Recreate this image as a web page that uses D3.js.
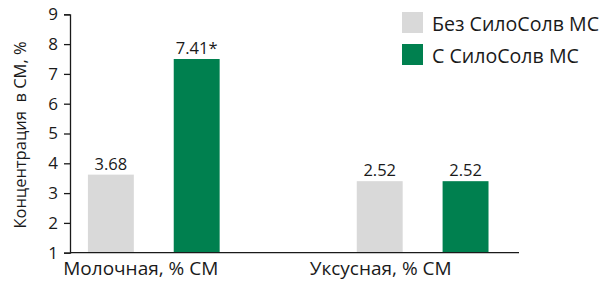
<!DOCTYPE html>
<html>
<head>
<meta charset="utf-8">
<script src="https://cdn.jsdelivr.net/npm/d3@7"></script>
<style>
  body { margin: 0; background: #fff; }
  svg text { font-family: "Open Sans", "Noto Sans", sans-serif; fill: #1a1a1a; }
</style>
</head>
<body>
<svg id="chart" width="607" height="281"></svg>
<script>
// data
const categories = ["Молочная, % СМ", "Уксусная, % СМ"];
const series = ["Без СилоСолв МС", "С СилоСолв МС"];
// bar heights as drawn in the picture
const withoutValues = [3.62, 3.4];
const withValues = [7.5, 3.4];
// labels printed above bars
const withoutLabels = ["3.68", "2.52"];
const withLabels = ["7.41*", "2.52"];
const yTicks = [1, 2, 3, 4, 5, 6, 7, 8, 9];
const yTitle = "Концентрация  в СМ, %";

const colors = ["#d9d9d9", "#00804f"];
const labelShift = [-13, -42];

const svg = d3.select("#chart");

const x0 = 70, x1 = 519, yTop = 14.3, yBot = 252.7;

const y = d3.scaleLinear().domain([1, 9]).range([yBot, yTop]);

const xGroup = d3.scaleBand()
    .domain(categories)
    .range([x0, x1])
    .paddingInner(0.51)
    .paddingOuter(0.09)
    .align(0.37);

const xSeries = d3.scaleBand()
    .domain(series)
    .range([0, xGroup.bandwidth()])
    .paddingInner(0.465);

const rows = categories.map((c, i) => ({
    cat: c,
    vals: [
        { s: series[0], v: withoutValues[i], label: withoutLabels[i] },
        { s: series[1], v: withValues[i], label: withLabels[i] }
    ]
}));

// bars
const groups = svg.selectAll(".grp")
    .data(rows)
    .enter()
    .append("g")
    .attr("class", "grp")
    .attr("transform", d => `translate(${xGroup(d.cat)},0)`);

groups.selectAll("rect")
    .data(d => d.vals)
    .enter()
    .append("rect")
    .attr("x", d => xSeries(d.s))
    .attr("y", d => y(d.v))
    .attr("width", xSeries.bandwidth())
    .attr("height", d => y(1) - y(d.v))
    .attr("fill", (d, i) => colors[i]);

groups.selectAll(".val")
    .data(d => d.vals)
    .enter()
    .append("text")
    .attr("class", "val")
    .attr("x", d => xSeries(d.s) + xSeries.bandwidth() / 2)
    .attr("y", d => y(d.v) - 5)
    .attr("text-anchor", "middle")
    .style("font-size", "16.5px")
    .text(d => d.label);

// y axis
const yAxis = svg.append("g")
    .attr("transform", `translate(${x0},0)`)
    .call(d3.axisLeft(y).tickValues(yTicks).tickSize(6).tickPadding(6).tickFormat(d3.format("d")));
yAxis.select(".domain").attr("stroke", "#1a1a1a").attr("stroke-width", 1.3);
yAxis.selectAll(".tick line").attr("stroke", "#1a1a1a").attr("stroke-width", 1.3);
yAxis.selectAll(".tick text")
    .style("font-size", "17px")
    .style("font-family", "'Open Sans', sans-serif")
    .attr("fill", "#1a1a1a");

// x axis line
svg.append("line")
    .attr("x1", x0).attr("x2", x1)
    .attr("y1", y(1)).attr("y2", y(1))
    .attr("stroke", "#1a1a1a")
    .attr("stroke-width", 1.3);

// category labels
svg.selectAll(".cat")
    .data(categories)
    .enter()
    .append("text")
    .attr("class", "cat")
    .attr("x", (d, i) => xGroup(d) + xGroup.bandwidth() / 2 + labelShift[i])
    .attr("y", 275)
    .attr("text-anchor", "middle")
    .style("font-size", "19px")
    .text(d => d);

// y title
svg.append("text")
    .attr("transform", "rotate(-90)")
    .attr("x", -135)
    .attr("y", 26)
    .attr("text-anchor", "middle")
    .style("font-size", "16.5px")
    .style("white-space", "pre")
    .text(yTitle);

// legend
const legend = svg.selectAll(".legend")
    .data(series)
    .enter()
    .append("g")
    .attr("class", "legend")
    .attr("transform", (d, i) => `translate(402,${12 + i * 32})`);

legend.append("rect")
    .attr("width", 21)
    .attr("height", 21)
    .attr("fill", (d, i) => colors[i]);

legend.append("text")
    .attr("x", 30)
    .attr("y", 19)
    .style("font-size", "19.6px")
    .text(d => d);
</script>
</body>
</html>
